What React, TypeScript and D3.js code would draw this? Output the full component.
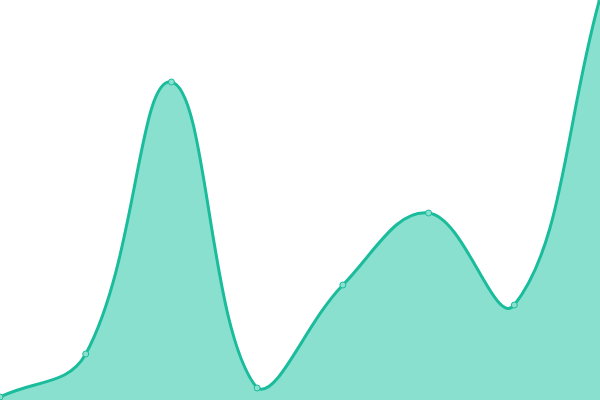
import React from "react";
import * as d3 from "d3";

const categories = ["A", "B", "C", "D", "E", "F", "G", "H"];
const values = [3, 46, 318, 12, 115, 187, 95, 402];
const yDomain = [0, 400];

const W = 600;
const H = 400;

// Distance-weighted cubic spline (tension-based) as a D3 curve factory
function splineCurve(tension: number) {
  return (context: any) => {
    let xs: number[] = [];
    let ys: number[] = [];
    let line = NaN;
    return {
      areaStart() {
        line = 0;
      },
      areaEnd() {
        line = NaN;
      },
      lineStart() {
        xs = [];
        ys = [];
      },
      lineEnd() {
        const n = xs.length;
        if (n) {
          if (line) context.lineTo(xs[0], ys[0]);
          else context.moveTo(xs[0], ys[0]);
          if (n === 2) context.lineTo(xs[1], ys[1]);
          else if (n > 2) {
            const pX: number[] = [], pY: number[] = [], nX: number[] = [], nY: number[] = [];
            for (let i = 0; i < n; i++) {
              const pi = i > 0 ? i - 1 : i;
              const ni = i < n - 1 ? i + 1 : i;
              const d01 = Math.hypot(xs[i] - xs[pi], ys[i] - ys[pi]);
              const d12 = Math.hypot(xs[ni] - xs[i], ys[ni] - ys[i]);
              let s01 = d01 / (d01 + d12);
              let s12 = d12 / (d01 + d12);
              if (isNaN(s01)) s01 = 0;
              if (isNaN(s12)) s12 = 0;
              const fa = tension * s01;
              const fb = tension * s12;
              const dx = xs[ni] - xs[pi];
              const dy = ys[ni] - ys[pi];
              pX[i] = xs[i] - fa * dx;
              pY[i] = Math.max(0, Math.min(H, ys[i] - fa * dy));
              nX[i] = xs[i] + fb * dx;
              nY[i] = Math.max(0, Math.min(H, ys[i] + fb * dy));
            }
            for (let i = 1; i < n; i++) {
              context.bezierCurveTo(nX[i - 1], nY[i - 1], pX[i], pY[i], xs[i], ys[i]);
            }
          }
        }
        if (line || (line !== 0 && n === 1)) context.closePath();
        line = 1 - line;
      },
      point(x: number, y: number) {
        xs.push(+x);
        ys.push(+y);
      },
    };
  };
}

export default function App() {
  const x = d3.scalePoint<string>().domain(categories).range([0, W]);
  const y = d3.scaleLinear().domain(yDomain).range([H, 0]);
  const data = categories.map((c, i) => ({ c, v: values[i] }));
  const curve = splineCurve(0.4) as any;
  const area = d3
    .area<{ c: string; v: number }>()
    .x((d) => x(d.c)!)
    .y0(H)
    .y1((d) => y(d.v))
    .curve(curve);
  const line = d3
    .line<{ c: string; v: number }>()
    .x((d) => x(d.c)!)
    .y((d) => y(d.v))
    .curve(curve);
  return (
    <svg
      width={W}
      height={H}
      style={{ position: "absolute", left: 0, top: 0, display: "block" }}
    >
      <path d={area(data)!} fill="#8ae0cf" />
      <path d={line(data)!} fill="none" stroke="#1abc9c" strokeWidth={3} />
      {data.map((d) => (
        <circle
          key={d.c}
          cx={x(d.c)!}
          cy={y(d.v)}
          r={3}
          fill="#8ae0cf"
          stroke="#1abc9c"
          strokeWidth={1}
        />
      ))}
    </svg>
  );
}
